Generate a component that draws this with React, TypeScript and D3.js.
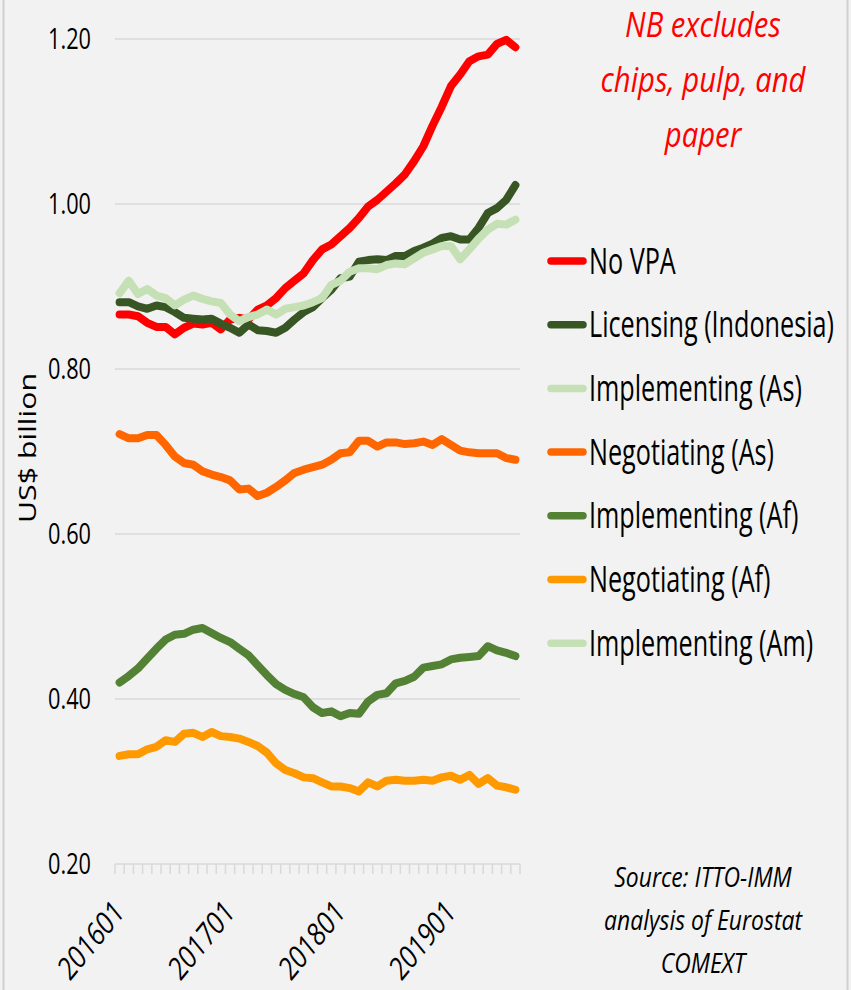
import React, { useEffect, useRef } from 'react';
import * as d3 from 'd3';

// months 201601 .. 201908
const months: string[] = [];
for (let yr = 2016; yr <= 2019; yr++) {
  for (let m = 1; m <= 12; m++) {
    if (yr === 2019 && m > 8) break;
    months.push(`${yr}${String(m).padStart(2, '0')}`);
  }
}
const labelMonths = ['201601', '201701', '201801', '201901'];
const yTicks = [0.2, 0.4, 0.6, 0.8, 1.0, 1.2];

const noVPA = [0.866, 0.866, 0.864, 0.856, 0.851, 0.851, 0.842, 0.850, 0.855, 0.854, 0.856, 0.848,
  0.860, 0.862, 0.860, 0.872, 0.877, 0.886, 0.898, 0.907, 0.916, 0.932, 0.945, 0.951,
  0.961, 0.971, 0.983, 0.997, 1.005, 1.015, 1.025, 1.036, 1.052, 1.070, 1.095, 1.118,
  1.143, 1.157, 1.173, 1.179, 1.181, 1.194, 1.199, 1.190];
const licensingIndonesia = [0.881, 0.881, 0.876, 0.873, 0.877, 0.875, 0.869, 0.862, 0.861, 0.860, 0.861, 0.855,
  0.850, 0.844, 0.854, 0.847, 0.846, 0.844, 0.850, 0.860, 0.869, 0.875, 0.886, 0.896,
  0.910, 0.912, 0.930, 0.932, 0.933, 0.932, 0.937, 0.937, 0.943, 0.947, 0.952, 0.959,
  0.961, 0.957, 0.957, 0.971, 0.989, 0.995, 1.005, 1.023];
const implementingAs = [0.892, 0.907, 0.891, 0.897, 0.889, 0.886, 0.877, 0.884, 0.889, 0.885, 0.882, 0.880,
  0.866, 0.858, 0.863, 0.866, 0.872, 0.866, 0.873, 0.875, 0.877, 0.881, 0.886, 0.902,
  0.907, 0.918, 0.922, 0.922, 0.921, 0.926, 0.928, 0.927, 0.934, 0.941, 0.945, 0.949,
  0.949, 0.933, 0.945, 0.958, 0.969, 0.976, 0.975, 0.981];
const negotiatingAs = [0.721, 0.716, 0.716, 0.720, 0.720, 0.708, 0.694, 0.686, 0.684, 0.676, 0.672, 0.669,
  0.665, 0.654, 0.655, 0.646, 0.650, 0.657, 0.665, 0.674, 0.678, 0.681, 0.684, 0.690,
  0.698, 0.699, 0.713, 0.713, 0.706, 0.711, 0.711, 0.709, 0.710, 0.712, 0.708, 0.715,
  0.708, 0.701, 0.699, 0.698, 0.698, 0.698, 0.692, 0.690];
const implementingAf = [0.420, 0.428, 0.437, 0.449, 0.461, 0.472, 0.478, 0.479, 0.484, 0.486, 0.480, 0.474,
  0.469, 0.461, 0.453, 0.441, 0.429, 0.418, 0.411, 0.406, 0.402, 0.390, 0.383, 0.385,
  0.379, 0.383, 0.382, 0.397, 0.405, 0.407, 0.419, 0.422, 0.427, 0.438, 0.440, 0.442,
  0.448, 0.450, 0.451, 0.452, 0.464, 0.459, 0.456, 0.452];
const negotiatingAf = [0.331, 0.333, 0.333, 0.339, 0.342, 0.350, 0.348, 0.358, 0.359, 0.354, 0.360, 0.355,
  0.354, 0.352, 0.348, 0.343, 0.335, 0.322, 0.314, 0.310, 0.305, 0.304, 0.299, 0.294,
  0.294, 0.292, 0.288, 0.299, 0.294, 0.301, 0.302, 0.301, 0.301, 0.302, 0.301, 0.305,
  0.307, 0.302, 0.308, 0.297, 0.304, 0.295, 0.293, 0.290];
// no line for this one is visible in the picture
const implementingAm: number[] = [];

const seriesNames = ['No VPA', 'Licensing (Indonesia)', 'Implementing (As)', 'Negotiating (As)',
  'Implementing (Af)', 'Negotiating (Af)', 'Implementing (Am)'];
const seriesColors = ['#ff0000', '#375623', '#c5e0b4', '#ff6600', '#548235', '#ff9900', '#c5e0b4'];
const seriesValues = [noVPA, licensingIndonesia, implementingAs, negotiatingAs, implementingAf, negotiatingAf, implementingAm];

const noteLines = ['NB excludes', 'chips, pulp, and', 'paper'];
const sourceLines = ['Source: ITTO-IMM', 'analysis of Eurostat', 'COMEXT'];

const FONT = "'Open Sans', 'DejaVu Sans Condensed', sans-serif";

const App = () => {
  const ref = useRef<SVGSVGElement>(null);

  useEffect(() => {
    const width = 851;
    const height = 990;
    const left = 115, right = 520, top = 39, bottom = 864;

    const svg = d3.select(ref.current);
    svg.selectAll('*').remove();

    // squeeze a group of texts so that one sample text gets the given width
    const squeeze = (sel: d3.Selection<SVGTextElement, any, any, any>, sampleIdx: number, target: number) => {
      const node = sel.nodes()[sampleIdx];
      return target / node.getComputedTextLength();
    };

    svg.append('rect').attr('width', width).attr('height', height).attr('fill', '#f2f2f2');
    // frame edges
    svg.append('line').attr('x1', 3.5).attr('x2', 3.5).attr('y1', 0).attr('y2', height)
      .attr('stroke', '#d0d0d0').attr('stroke-width', 2);
    svg.append('line').attr('x1', 847.5).attr('x2', 847.5).attr('y1', 0).attr('y2', height)
      .attr('stroke', '#d0d0d0').attr('stroke-width', 2);

    const x = d3.scaleBand().domain(months).range([left, right]);
    const y = d3.scaleLinear().domain([0.2, 1.2]).range([bottom, top]);
    const cx = (i: number) => (x(months[i]) as number) + x.bandwidth() / 2;

    // gridlines
    svg.append('g').selectAll('line').data(yTicks.slice(1)).join('line')
      .attr('x1', left).attr('x2', right)
      .attr('y1', d => y(d)).attr('y2', d => y(d))
      .attr('stroke', '#d9d9d9').attr('stroke-width', 1.5);

    // x axis line and ticks
    svg.append('line').attr('x1', left).attr('x2', right).attr('y1', bottom).attr('y2', bottom)
      .attr('stroke', '#d9d9d9').attr('stroke-width', 1.5);
    const tickXs = months.map(m => x(m) as number).concat([right]);
    svg.append('g').selectAll('line').data(tickXs).join('line')
      .attr('x1', d => d).attr('x2', d => d).attr('y1', bottom).attr('y2', bottom + 10)
      .attr('stroke', '#d9d9d9').attr('stroke-width', 1.5);

    // y labels
    const yLabels = svg.append('g').selectAll<SVGTextElement, number>('text').data(yTicks).join('text')
      .attr('y', 9.4)
      .attr('text-anchor', 'end')
      .attr('font-family', FONT).attr('font-size', 27).attr('fill', '#000')
      .text(d => d.toFixed(2));
    const syl = squeeze(yLabels, 0, 43);
    yLabels.attr('transform', d => `translate(91,${y(d)}) scale(${syl},1.1)`);

    // x labels
    const xLabels = svg.append('g').selectAll<SVGTextElement, string>('text').data(labelMonths).join('text')
      .attr('text-anchor', 'end')
      .attr('font-family', FONT).attr('font-size', 27).attr('fill', '#000')
      .text(d => d);
    const sxl = squeeze(xLabels, 0, 79);
    xLabels.attr('transform', d =>
      `translate(${cx(months.indexOf(d)) + 6},${bottom + 50}) scale(1,1.22) rotate(-45) scale(${sxl},1)`);

    // y title
    svg.append('text')
      .attr('transform', 'translate(36,448) rotate(-90)')
      .attr('text-anchor', 'middle')
      .attr('font-family', FONT).attr('font-size', 24).attr('fill', '#000')
      .attr('textLength', 150).attr('lengthAdjust', 'spacingAndGlyphs')
      .text('US$ billion');

    // lines
    const line = d3.line<number>().x((d, i) => cx(i)).y(d => y(d));
    seriesValues.forEach((vals, k) => {
      if (!vals.length) return;
      svg.append('path')
        .datum(vals)
        .attr('fill', 'none')
        .attr('stroke', seriesColors[k])
        .attr('stroke-width', 8)
        .attr('stroke-linejoin', 'round')
        .attr('stroke-linecap', 'round')
        .attr('d', line);
    });

    // legend
    const legend = svg.append('g');
    const legendY = (k: number) => 261 + k * 63.7;
    legend.selectAll('line').data(seriesNames).join('line')
      .attr('x1', 551).attr('x2', 583)
      .attr('y1', (d, k) => legendY(k)).attr('y2', (d, k) => legendY(k))
      .attr('stroke', (d, k) => seriesColors[k]).attr('stroke-width', 7.5).attr('stroke-linecap', 'round');
    const legendText = legend.selectAll<SVGTextElement, string>('text').data(seriesNames).join('text')
      .attr('y', 10.8)
      .attr('font-family', FONT).attr('font-size', 31).attr('fill', '#000')
      .text(d => d);
    const sleg = squeeze(legendText, 2, 213);
    legendText.attr('transform', (d, k) => `translate(589,${legendY(k)}) scale(${sleg},1.16)`);

    // note
    const note = svg.append('g').selectAll<SVGTextElement, string>('text').data(noteLines).join('text')
      .attr('text-anchor', 'middle')
      .attr('font-family', FONT).attr('font-style', 'italic').attr('font-size', 33)
      .attr('fill', '#ff0000')
      .text(d => d);
    const snote = squeeze(note, 1, 205);
    note.attr('transform', (d, i) => `translate(703,${37 + i * 55}) scale(${snote},1.05)`);

    const source = svg.append('g').selectAll<SVGTextElement, string>('text').data(sourceLines).join('text')
      .attr('text-anchor', 'middle')
      .attr('font-family', FONT).attr('font-style', 'italic').attr('font-size', 28)
      .attr('fill', '#000')
      .text(d => d);
    const ssrc = squeeze(source, 1, 198);
    source.attr('transform', (d, i) => `translate(703,${887 + i * 43}) scale(${ssrc},1)`);
  }, []);

  return (
    <svg ref={ref} width={851} height={990} style={{ display: 'block', position: 'absolute', left: 0, top: 0 }} />
  );
};

export default App;
